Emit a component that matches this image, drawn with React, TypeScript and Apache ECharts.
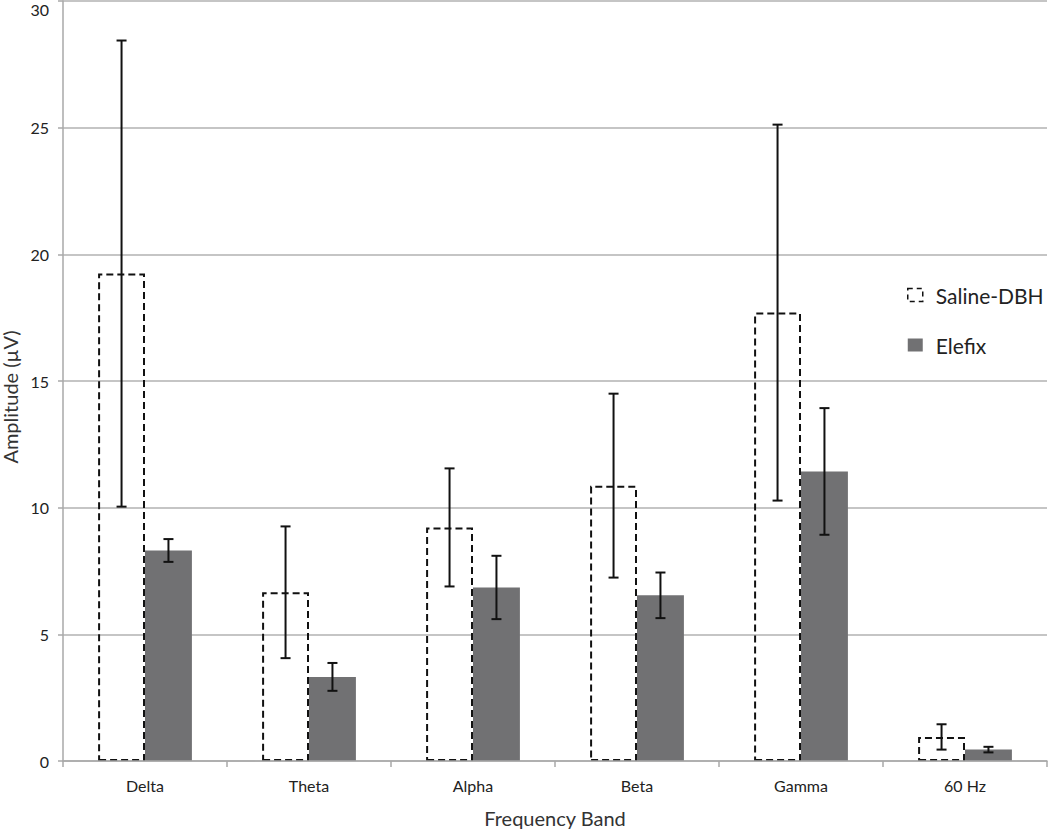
import React, { useEffect, useRef } from "react";
import * as echarts from "echarts";

const categories = ["Delta", "Theta", "Alpha", "Beta", "Gamma", "60 Hz"];
const salineMean = [19.24, 6.66, 9.22, 10.87, 17.7, 0.95];
const salineErr = [9.2, 2.6, 2.33, 3.63, 7.42, 0.5];
const elefixMean = [8.31, 3.32, 6.85, 6.54, 11.43, 0.45];
const elefixErr = [0.45, 0.55, 1.25, 0.9, 2.5, 0.11];
const yTicks = [0, 5, 10, 15, 20, 25, 30];

const FONT = "Lato, 'Open Sans', sans-serif";
const BAR_FRAC = 0.286;

function errData(mean: number[], err: number[]) {
  return mean.map((m, i) => [i, m - err[i], m + err[i]]);
}

function makeErrRender(sign: number) {
  return (params: any, api: any) => {
    const idx = api.value(0);
    const lo = api.coord([idx, api.value(1)]);
    const hi = api.coord([idx, api.value(2)]);
    const band = api.size([1, 0])[0];
    const x = lo[0] + (sign * band * BAR_FRAC) / 2;
    const cap = 5;
    const style = { stroke: "#111", lineWidth: 2 };
    return {
      type: "group",
      children: [
        { type: "line", shape: { x1: x, y1: hi[1], x2: x, y2: lo[1] }, style },
        { type: "line", shape: { x1: x - cap, y1: hi[1], x2: x + cap, y2: hi[1] }, style },
        { type: "line", shape: { x1: x - cap, y1: lo[1], x2: x + cap, y2: lo[1] }, style },
      ],
    };
  };
}

export default function App() {
  const ref = useRef<HTMLDivElement>(null);
  useEffect(() => {
    if (!ref.current) return;
    const chart = echarts.init(ref.current, null, { renderer: "svg" });
    chart.setOption({
      animation: false,
      textStyle: { fontFamily: FONT },
      grid: { left: 63, right: 3, top: 1, bottom: 68, outerBoundsMode: "none", containLabel: false },
      legend: {
        orient: "vertical",
        left: 902,
        top: 279,
        itemWidth: 15,
        itemHeight: 13,
        itemGap: 28,
        textStyle: {
          fontSize: 21,
          lineHeight: 22,
          color: "#222",
          fontFamily: FONT,
          padding: [0, 0, 0, 8],
        },
        data: [
          {
            name: "Saline-DBH",
            icon: "rect",
            itemStyle: { color: "#fff", borderColor: "#111", borderWidth: 1.5, borderType: [5, 4] },
          },
          { name: "Elefix", icon: "rect", itemStyle: { color: "#717173" } },
        ],
      },
      xAxis: {
        type: "category",
        data: categories,
        z: 4,
        name: "Frequency Band",
        nameLocation: "middle",
        nameGap: 47,
        nameTextStyle: { fontSize: 20, color: "#333", fontFamily: FONT },
        axisLine: { lineStyle: { color: "#a8a8a8", width: 1.5 } },
        axisTick: { show: true, length: 6, lineStyle: { color: "#a8a8a8", width: 1.5 } },
        axisLabel: { fontSize: 16, color: "#222", margin: 16, fontFamily: FONT },
      },
      yAxis: {
        type: "value",
        min: 0,
        max: 30,
        interval: 5,
        name: "Amplitude (µV)",
        nameLocation: "middle",
        nameGap: 40,
        nameTextStyle: { fontSize: 20, color: "#333", fontFamily: FONT, padding: [0, 32, 0, 0] },
        axisLine: { show: true, lineStyle: { color: "#a8a8a8", width: 1.5 } },
        axisTick: { show: true, length: 5, lineStyle: { color: "#a8a8a8", width: 1.5 } },
        axisLabel: {
          fontSize: 16,
          color: "#222",
          margin: 14,
          fontFamily: FONT,
          verticalAlignMaxLabel: "top",
          formatter: (v: number) => (yTicks.includes(v) ? String(v) : ""),
        },
        splitLine: { lineStyle: { color: "#b2b2b2", width: 1.5 } },
      },
      series: [
        {
          name: "Saline-DBH",
          type: "bar",
          data: salineMean,
          barWidth: BAR_FRAC * 100 + "%",
          barGap: "0%",
          z: 3,
          itemStyle: {
            color: "rgba(255,255,255,0)",
            borderColor: "#111",
            borderWidth: 2,
            borderType: [7, 4],
          },
        },
        {
          name: "Elefix",
          type: "bar",
          data: elefixMean,
          barWidth: BAR_FRAC * 100 + "%",
          barGap: "0%",
          z: 2,
          itemStyle: { color: "#717173" },
        },
        {
          type: "custom",
          data: errData(salineMean, salineErr),
          renderItem: makeErrRender(-1),
          encode: { x: 0, y: [1, 2] },
          z: 5,
          silent: true,
        },
        {
          type: "custom",
          data: errData(elefixMean, elefixErr),
          renderItem: makeErrRender(1),
          encode: { x: 0, y: [1, 2] },
          z: 5,
          silent: true,
        },
      ],
    });
    return () => chart.dispose();
  }, []);
  return <div ref={ref} style={{ width: 1050, height: 829, position: "absolute", left: 0, top: 0 }} />;
}
